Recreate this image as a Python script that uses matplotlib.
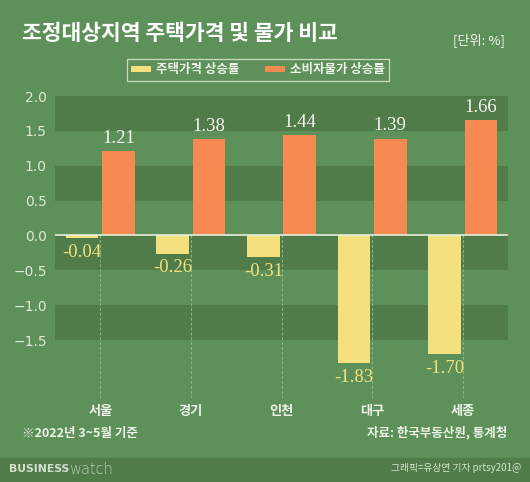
import matplotlib.pyplot as plt
import numpy as np

plt.rcParams['font.family'] = ['Noto Sans CJK KR', 'DejaVu Sans']

# dados
regioes = ['서울', '경기', '인천', '대구', '세종']
casa = [-0.04, -0.26, -0.31, -1.83, -1.70]
cpi = [1.21, 1.38, 1.44, 1.39, 1.66]
yticks = [2.0, 1.5, 1.0, 0.5, 0.0, -0.5, -1.0, -1.5]

bg = '#5e9159'
band = '#4f7c49'
amarelo = '#f4e07c'
laranja = '#f68a52'
claro = '#dfe9d6'

fig = plt.figure(figsize=(5.3, 4.82), dpi=100, facecolor=bg)
ax = fig.add_axes([55/530, 1-398/482, 453/530, 302/482])
ax.set_facecolor(bg)

x = np.arange(len(regioes))
w = 0.36

# faixas escuras
for lo in [1.5, 0.5, -0.5, -1.5]:
    ax.axhspan(lo, lo + 0.5, color=band, lw=0, zorder=0)

# linhas tracejadas abaixo do zero
ax.vlines(x, -2.33, 0, colors='#8db884', linestyles=(0, (3, 2)), lw=0.7, zorder=1)

b1 = ax.bar(x - 0.2, casa, w, color=amarelo, zorder=2, label='주택가격 상승률')
b2 = ax.bar(x + 0.2, cpi, w, color=laranja, zorder=2, label='소비자물가 상승률')
ax.axhline(0, color='#e6eedb', lw=1.2, zorder=3)

for xi, v in zip(x, casa):
    ax.annotate(f'{v:.2f}', (xi - 0.2, v), xytext=(0, -4),
                textcoords='offset points', ha='center', va='top',
                color=amarelo, fontsize=13.5, family='Liberation Serif')
for xi, v in zip(x, cpi):
    ax.annotate(f'{v:.2f}', (xi + 0.2, v), xytext=(0, 3),
                textcoords='offset points', ha='center', va='bottom',
                color='#f7f6ee', fontsize=13.5, family='Liberation Serif')

ax.set_xlim(-0.5, 4.5)
ax.set_ylim(-2.33, 2.0)
ax.set_yticks(yticks)
ax.set_yticklabels([f'{t:.1f}'.replace('-', '\u2212') for t in yticks],
                   family='DejaVu Sans')
ax.set_xticks(x)
ax.set_xticklabels(regioes, fontweight='bold')
ax.tick_params(axis='y', length=0, colors=claro, labelsize=10, pad=6)
ax.tick_params(axis='x', length=0, colors='#eef3ea', labelsize=9.5, pad=4)
for s in ax.spines.values():
    s.set_visible(False)

leg = fig.legend(handles=[b1, b2], loc='center', bbox_to_anchor=(258/530, 1-70/482),
                 ncol=2, frameon=True, handlelength=1.6, handleheight=0.4,
                 columnspacing=2.0, handletextpad=0.4, borderpad=0.35,
                 prop={'weight': 'bold', 'size': 9})
leg.get_frame().set_facecolor('none')
leg.get_frame().set_edgecolor('#e6eedb')
leg.get_frame().set_linewidth(0.9)
leg.get_frame().set_boxstyle('square', pad=0)
for t in leg.get_texts():
    t.set_color('#eef3ea')

fig.text(22/530, 1-33/482, '조정대상지역 주택가격 및 물가 비교', fontsize=15.5,
         fontweight='bold', color='#ffffff', va='center')
fig.text(505/530, 1-40/482, '[단위: %]', fontsize=9.5, color='#f2f5ee',
         ha='right', va='center')
fig.text(22/530, 1-433/482, '※2022년 3~5월 기준', fontsize=9, fontweight='bold',
         color='#eef3ea', va='center')
fig.text(507/530, 1-433/482, '자료: 한국부동산원, 통계청', fontsize=9, fontweight='bold',
         color='#eef3ea', ha='right', va='center')

# rodape
fig.patches.append(plt.Rectangle((0, 0), 1, 24/482, transform=fig.transFigure,
                                 color=band, zorder=0))
fig.text(9/530, 1-469/482, 'BUSINESS', fontsize=7.8, fontweight='bold',
         color='#d3dfcd', va='center', family='DejaVu Sans')
fig.text(69/530, 1-469/482, 'watch', fontsize=10.5, fontweight='light',
         color='#b9cbb3', va='center', family='DejaVu Sans')
fig.text(521/530, 1-468/482, '그래픽=유상연 기자 prtsy201@', fontsize=7,
         color='#d8e3d2', ha='right', va='center')

plt.savefig('out.png', dpi=100, facecolor=bg)
